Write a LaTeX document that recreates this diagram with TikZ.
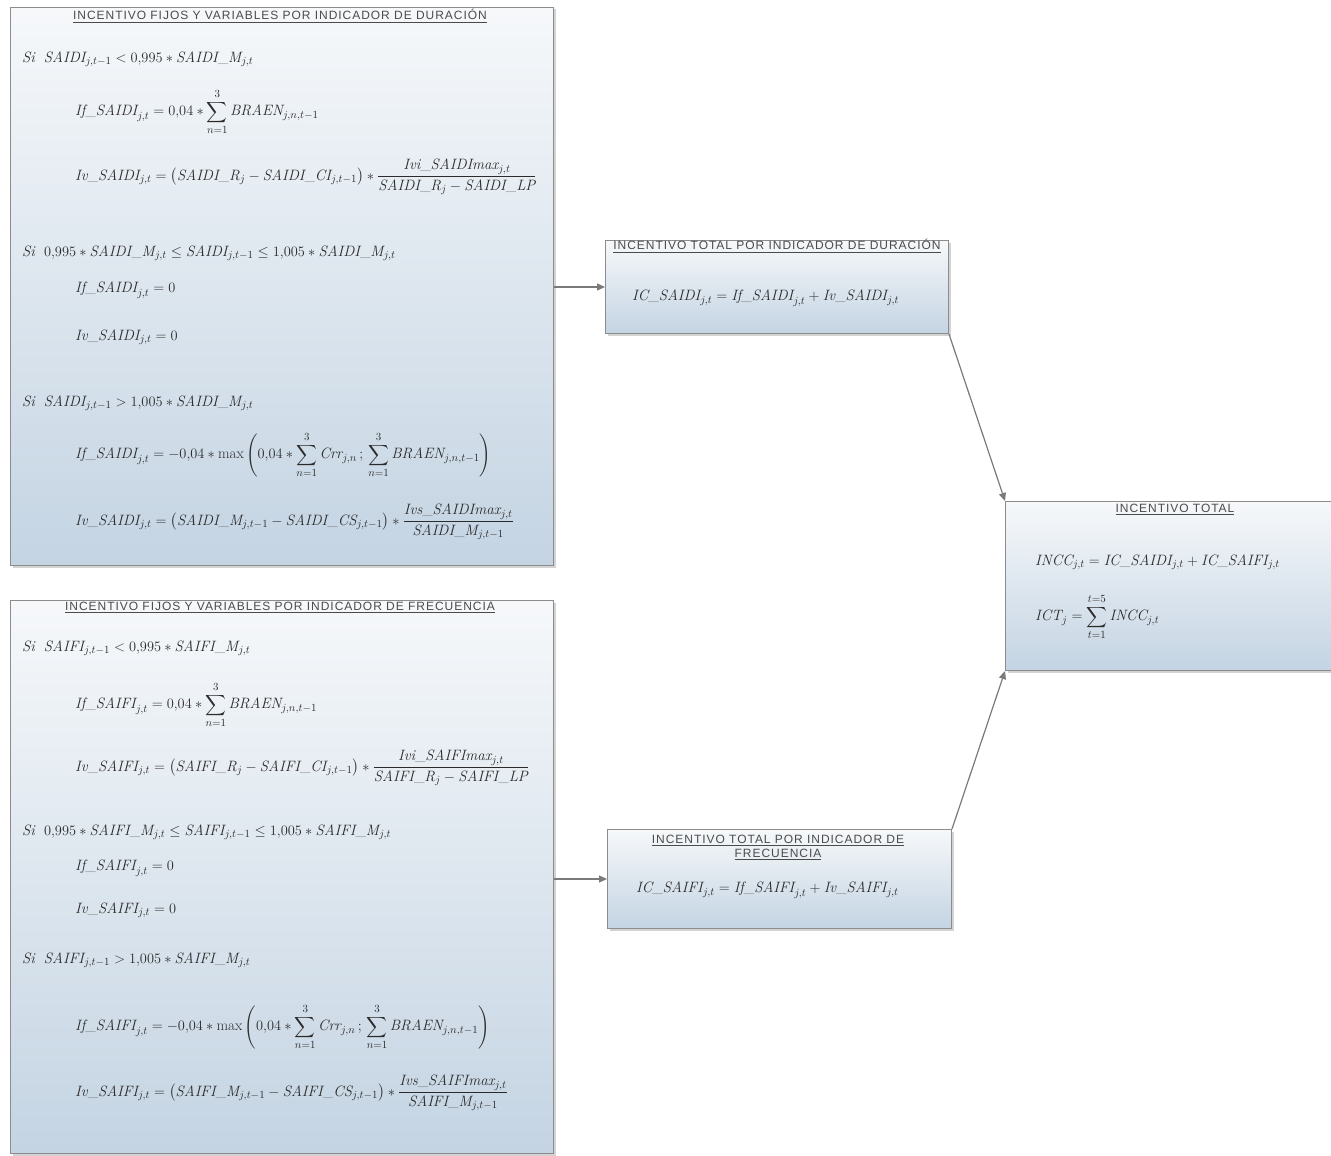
\documentclass[tikz,border=0pt]{standalone}
\usepackage{amsmath}
\usepackage{fontspec}
\setsansfont{Liberation Sans}
\usetikzlibrary{arrows.meta, shadows}
\definecolor{boxtop}{HTML}{F6F8FA}
\definecolor{boxbot}{HTML}{C4D4E3}
\definecolor{boxline}{HTML}{8C8C8C}
\definecolor{linkgray}{HTML}{7A7A7A}
\definecolor{inkgray}{HTML}{2B2B2B}
\newcommand{\vr}[1]{\mathit{#1}}
\newcommand{\dc}[2]{#1{,}#2}
\tikzset{
  panel/.style={draw=boxline, line width=1pt, top color=boxtop, bottom color=boxbot,
    drop shadow={shadow xshift=2pt, shadow yshift=-2pt, opacity=0.35},
    anchor=north west, inner sep=0pt},
  heading/.style={font=\sffamily\fontsize{12}{14}\selectfont\addfontfeature{LetterSpace=8}, text=inkgray!85, align=center, inner sep=0pt},
  eq/.style={font=\fontsize{15}{17}\selectfont, text=inkgray, anchor=west, inner sep=0pt},
  link/.style={draw=linkgray, line width=1.2pt, -{Triangle[length=8pt,width=7pt]}}
}

\begin{document}
\begin{tikzpicture}[x=1pt, y=-1pt]
  \useasboundingbox (0,0) rectangle (1331,1156);
  % boxes
  \node[panel, minimum width=543pt, minimum height=558pt] (durbox) at (10,7) {};
  \node[panel, minimum width=543pt, minimum height=553pt] (frebox) at (10,600) {};
  \node[panel, minimum width=343pt, minimum height=93pt] (totdur) at (605,240) {};
  \node[panel, minimum width=344pt, minimum height=99pt] (totfre) at (607,829) {};
  \node[panel, minimum width=340pt, minimum height=169pt] (totbox) at (1005,501) {};

  % duracion
  \node[heading] (durtitle) at (280,16) {\underline{INCENTIVO FIJOS Y VARIABLES POR INDICADOR DE DURACIÓN}};
  \node[eq] (dursi1) at (22,59) {$\vr{Si}\ \ \vr{SAIDI}_{j,t-1} < \dc{0}{995} \ast \vr{SAIDI\_M}_{j,t}$};
  \node[eq] (durif1) at (75,112) {$\displaystyle \vr{If\_SAIDI}_{j,t} = \dc{0}{04} \ast \sum_{n=1}^{3} \vr{BRAEN}_{j,n,t-1}$};
  \node[eq] (duriv1) at (75,177) {$\displaystyle \vr{Iv\_SAIDI}_{j,t} = \left(\vr{SAIDI\_R}_j - \vr{SAIDI\_CI}_{j,t-1}\right) \ast \frac{\vr{Ivi\_SAIDImax}_{j,t}}{\vr{SAIDI\_R}_j - \vr{SAIDI\_LP}}$};
  \node[eq] (dursi2) at (22,253) {$\vr{Si}\ \ \dc{0}{995} \ast \vr{SAIDI\_M}_{j,t} \le \vr{SAIDI}_{j,t-1} \le \dc{1}{005} \ast \vr{SAIDI\_M}_{j,t}$};
  \node[eq] (durif2) at (75,290) {$\vr{If\_SAIDI}_{j,t} = 0$};
  \node[eq] (duriv2) at (75,337) {$\vr{Iv\_SAIDI}_{j,t} = 0$};
  \node[eq] (dursi3) at (22,403) {$\vr{Si}\ \ \vr{SAIDI}_{j,t-1} > \dc{1}{005} \ast \vr{SAIDI\_M}_{j,t}$};
  \node[eq] (durif3) at (75,455) {$\displaystyle \vr{If\_SAIDI}_{j,t} = -\dc{0}{04} \ast \max\left(\dc{0}{04} \ast \sum_{n=1}^{3} \vr{Crr}_{j,n} \,;\, \sum_{n=1}^{3} \vr{BRAEN}_{j,n,t-1}\right)$};
  \node[eq] (duriv3) at (75,522) {$\displaystyle \vr{Iv\_SAIDI}_{j,t} = \left(\vr{SAIDI\_M}_{j,t-1} - \vr{SAIDI\_CS}_{j,t-1}\right) \ast \frac{\vr{Ivs\_SAIDImax}_{j,t}}{\vr{SAIDI\_M}_{j,t-1}}$};

  % frecuencia
  \node[heading] (fretitle) at (280,608) {\underline{INCENTIVO FIJOS Y VARIABLES POR INDICADOR DE FRECUENCIA}};
  \node[eq] (fresi1) at (22,648) {$\vr{Si}\ \ \vr{SAIFI}_{j,t-1} < \dc{0}{995} \ast \vr{SAIFI\_M}_{j,t}$};
  \node[eq] (freif1) at (75,705) {$\displaystyle \vr{If\_SAIFI}_{j,t} = \dc{0}{04} \ast \sum_{n=1}^{3} \vr{BRAEN}_{j,n,t-1}$};
  \node[eq] (freiv1) at (75,768) {$\displaystyle \vr{Iv\_SAIFI}_{j,t} = \left(\vr{SAIFI\_R}_j - \vr{SAIFI\_CI}_{j,t-1}\right) \ast \frac{\vr{Ivi\_SAIFImax}_{j,t}}{\vr{SAIFI\_R}_j - \vr{SAIFI\_LP}}$};
  \node[eq] (fresi2) at (22,832) {$\vr{Si}\ \ \dc{0}{995} \ast \vr{SAIFI\_M}_{j,t} \le \vr{SAIFI}_{j,t-1} \le \dc{1}{005} \ast \vr{SAIFI\_M}_{j,t}$};
  \node[eq] (freif2) at (75,868) {$\vr{If\_SAIFI}_{j,t} = 0$};
  \node[eq] (freiv2) at (75,910) {$\vr{Iv\_SAIFI}_{j,t} = 0$};
  \node[eq] (fresi3) at (22,960) {$\vr{Si}\ \ \vr{SAIFI}_{j,t-1} > \dc{1}{005} \ast \vr{SAIFI\_M}_{j,t}$};
  \node[eq] (freif3) at (75,1027) {$\displaystyle \vr{If\_SAIFI}_{j,t} = -\dc{0}{04} \ast \max\left(\dc{0}{04} \ast \sum_{n=1}^{3} \vr{Crr}_{j,n} \,;\, \sum_{n=1}^{3} \vr{BRAEN}_{j,n,t-1}\right)$};
  \node[eq] (freiv3) at (75,1093) {$\displaystyle \vr{Iv\_SAIFI}_{j,t} = \left(\vr{SAIFI\_M}_{j,t-1} - \vr{SAIFI\_CS}_{j,t-1}\right) \ast \frac{\vr{Ivs\_SAIFImax}_{j,t}}{\vr{SAIFI\_M}_{j,t-1}}$};

  % totales
  \node[heading] (totdurtitle) at (777,246) {\underline{INCENTIVO TOTAL POR INDICADOR DE DURACIÓN}};
  \node[eq] (totdureq) at (632,298) {$\vr{IC\_SAIDI}_{j,t} = \vr{If\_SAIDI}_{j,t} + \vr{Iv\_SAIDI}_{j,t}$};
  \node[heading] (totfretitle) at (778,848) {\underline{INCENTIVO TOTAL POR INDICADOR DE}\\\underline{FRECUENCIA}};
  \node[eq] (totfreeq) at (636,890) {$\vr{IC\_SAIFI}_{j,t} = \vr{If\_SAIFI}_{j,t} + \vr{Iv\_SAIFI}_{j,t}$};
  \node[heading] (tottitle) at (1175,510) {\underline{INCENTIVO TOTAL}};
  \node[eq] (totinc) at (1035,562) {$\vr{INCC}_{j,t} = \vr{IC\_SAIDI}_{j,t} + \vr{IC\_SAIFI}_{j,t}$};
  \node[eq] (totict) at (1035,617) {$\displaystyle \vr{ICT}_j = \sum_{t=1}^{t=5} \vr{INCC}_{j,t}$};

  % conectores
  \draw[link] (durbox.east |- totdur.west) -- (totdur.west);
  \draw[link] (frebox.east |- totfre.west) -- (totfre.west);
  \draw[link] (totdur.south east) -- (totbox.north west);
  \draw[link] (totfre.north east) -- (totbox.south west);
\end{tikzpicture}
\end{document}
